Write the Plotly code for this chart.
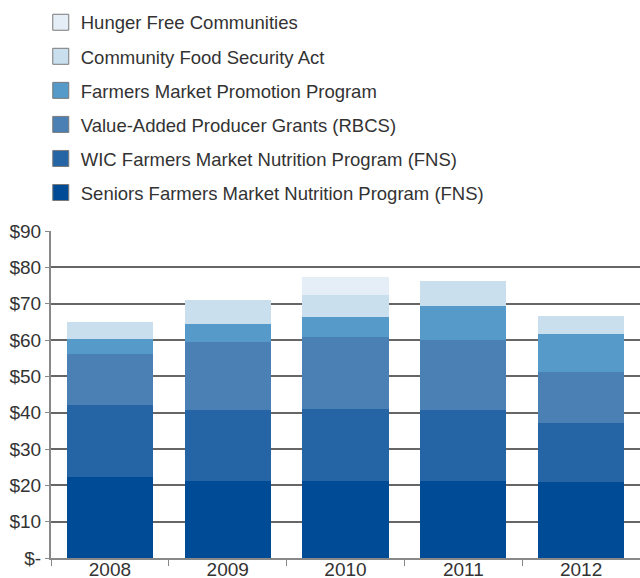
import plotly.graph_objects as go

years = ['2008', '2009', '2010', '2011', '2012']

seniors = [22.2, 21.1, 21.1, 21.1, 20.8]
wic = [19.9, 19.6, 19.9, 19.6, 16.3]
vapg = [14.0, 18.7, 19.8, 19.3, 14.1]
fmpp = [4.2, 5.0, 5.5, 9.3, 10.4]
cfsa = [4.7, 6.6, 6.1, 6.9, 5.0]
hunger = [0, 0, 4.9, 0, 0]

series = [
    ('Seniors Farmers Market Nutrition Program (FNS)', seniors, '#004b96'),
    ('WIC Farmers Market Nutrition Program (FNS)', wic, '#2565a5'),
    ('Value-Added Producer Grants (RBCS)', vapg, '#4b80b4'),
    ('Farmers Market Promotion Program', fmpp, '#559ac8'),
    ('Community Food Security Act', cfsa, '#c9dfee'),
    ('Hunger Free Communities', hunger, '#e5edf6'),
]

y_ticks = [0, 10, 20, 30, 40, 50, 60, 70, 80, 90]
y_labels = ['$-', '$10', '$20', '$30', '$40', '$50', '$60', '$70', '$80', '$90']

fig = go.Figure()

for name, vals, color in series:
    fig.add_trace(go.Bar(
        x=years,
        y=vals,
        name=name,
        marker_color=color,
        marker_line_width=0,
        legendgroup=name,
        showlegend=False
    ))

# legend entries, drawn as outlined squares like the original
for name, vals, color in reversed(series):
    fig.add_trace(go.Scatter(
        x=[None],
        y=[None],
        mode='markers',
        name=name,
        legendgroup=name,
        marker=dict(symbol='square', size=20, color=color,
                    line=dict(color='#7a7a7a', width=1))
    ))

fig.update_layout(
    barmode='stack',
    bargap=0.267,
    width=640,
    height=578,
    margin=dict(l=51, r=0, t=231, b=20),
    paper_bgcolor='white',
    plot_bgcolor='white',
    font=dict(family='Liberation Sans, Arial, sans-serif', size=19, color='#333333'),
    showlegend=True,
    legend=dict(
        x=-0.0174,
        xanchor='left',
        y=1.695,
        yanchor='top',
        traceorder='grouped',
        tracegroupgap=7,
        font=dict(size=18.5, color='#333333'),
        itemsizing='trace'
    ),
    xaxis=dict(
        automargin=False,
        showline=True,
        linecolor='#888888',
        linewidth=2,
        ticks='outside',
        tickson='boundaries',
        ticklen=6,
        tickcolor='#888888',
        ticklabelstandoff=-7,
        showgrid=False
    ),
    yaxis=dict(
        automargin=False,
        range=[0, 90],
        tickvals=y_ticks,
        ticktext=y_labels,
        showline=True,
        linecolor='#888888',
        linewidth=2,
        ticks='outside',
        ticklen=4,
        tickcolor='#888888',
        showgrid=True,
        gridcolor='#666666',
        gridwidth=1.5,
        zeroline=False
    )
)

fig.write_html('out.html', config={'displayModeBar': False},
               post_script="document.body.style.margin='0';")
